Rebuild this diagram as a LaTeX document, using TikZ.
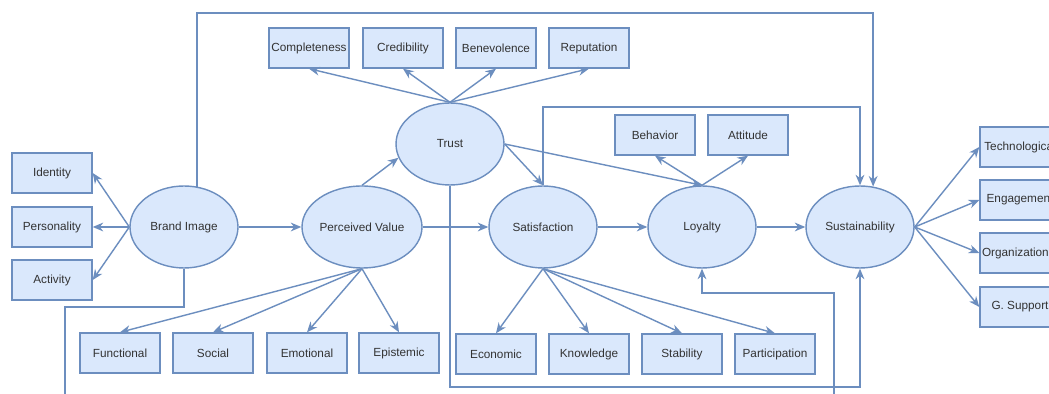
\documentclass[tikz,border=0pt]{standalone}
\usepackage{fontspec}
\setmainfont{Liberation Sans}
\usetikzlibrary{arrows.meta,shapes.geometric}
\definecolor{paleblue}{HTML}{DAE8FC}
\definecolor{edge}{HTML}{6C8EBF}
\definecolor{ink}{HTML}{333333}

\begin{document}
\begin{tikzpicture}[x=0.02cm,y=-0.02cm,>={Stealth[length=6pt,width=5pt]},
    box/.style={draw=edge,fill=paleblue,line width=0.8pt,minimum width=1.6cm,
      minimum height=0.8cm,inner sep=0pt,text=ink,font=\fontsize{6.7}{8}\selectfont},
    latent/.style={ellipse,draw=edge,fill=paleblue,line width=0.8pt,minimum width=2.16cm,
      minimum height=1.64cm,inner sep=0pt,text=ink,font=\fontsize{6.7}{8}\selectfont},
    link/.style={edge,line width=0.8pt}]
      % frame of the picture, in pixel units
      \useasboundingbox (0,0) rectangle (1049,394);
      \clip (0,0) rectangle (1049,394);
      \fill[white] (0,0) rectangle (1049,394);

      % heights of the long elbow lines
      \coordinate (topy) at (0,13);
      \coordinate (midy) at (0,107);
      \coordinate (lowy) at (0,387);
      \coordinate (biy) at (0,307);
      \coordinate (loy) at (0,293);
      \coordinate (biout) at (65,400);
      \coordinate (loin) at (834,400);

      % latent constructs
      \node[latent] (bi) at (184,227) {Brand Image};
      \node[latent] (pv) at (362,227) {Perceived Value};
      \node[latent] (tr) at (450,144) {Trust};
      \node[latent] (sa) at (543,227) {Satisfaction};
      \node[latent] (lo) at (702,227) {Loyalty};
      \node[latent] (su) at (860,227) {Sustainability};

      % indicators
      \node[box] (id) at (52,173) {Identity};
      \node[box] (pe) at (52,227) {Personality};
      \node[box] (ac) at (52,280) {Activity};
      \node[box] (co) at (309,48) {Completeness};
      \node[box] (cr) at (403,48) {Credibility};
      \node[box] (be) at (496,48) {Benevolence};
      \node[box] (re) at (589,48) {Reputation};
      \node[box] (bh) at (655,135) {Behavior};
      \node[box] (at) at (748,135) {Attitude};
      \node[box] (te) at (1020,147) {Technological};
      \node[box] (en) at (1020,200) {Engagement};
      \node[box] (or) at (1020,253) {Organizational};
      \node[box] (gs) at (1020,307) {G. Support};
      \node[box] (fu) at (120,353) {Functional};
      \node[box] (so) at (213,353) {Social};
      \node[box] (em) at (307,353) {Emotional};
      \node[box] (ep) at (399,353) {Epistemic};
      \node[box] (ec) at (496,354) {Economic};
      \node[box] (kn) at (589,354) {Knowledge};
      \node[box] (st) at (682,354) {Stability};
      \node[box] (pa) at (775,354) {Participation};

      % structural paths
      \draw[link,->] (bi) -- (pv);
      \draw[link,->] (pv) -- (sa);
      \draw[link,->] (sa) -- (lo);
      \draw[link,->] (lo) -- (su);
      \draw[link,->] (pv.north) -- (tr.195);
      \draw[link,->] (tr.east) -- (sa.north);
      \draw[link,->] (tr.east) -- (lo.north);

      % elbow paths
      \draw[link,->] (bi.72) -- (bi.72 |- topy) -| (su.72);
      \draw[link,->] (sa.north) -- (sa.north |- midy) -| (su.north);
      \draw[link,->] (tr.south) -- (tr.south |- lowy) -| (su.south);
      \draw[link] (bi.south) -- (bi.south |- biy) -| (biout);
      \draw[link,->] (loin) -- (loin |- loy) -| (lo.south);

      % measurement paths
      \foreach \b in {id,pe,ac}
        \draw[link,->] (bi.west) -- (\b.east);
      \foreach \b in {co,cr,be,re}
        \draw[link,->] (tr.north) -- (\b.south);
      \foreach \b in {bh,at}
        \draw[link,->] (lo.north) -- (\b.south);
      \foreach \b in {te,en,or,gs}
        \draw[link,->] (su.east) -- (\b.west);
      \foreach \b in {fu,so,em,ep}
        \draw[link,->] (pv.south) -- (\b.north);
      \foreach \b in {ec,kn,st,pa}
        \draw[link,->] (sa.south) -- (\b.north);
    \end{tikzpicture}
\end{document}
